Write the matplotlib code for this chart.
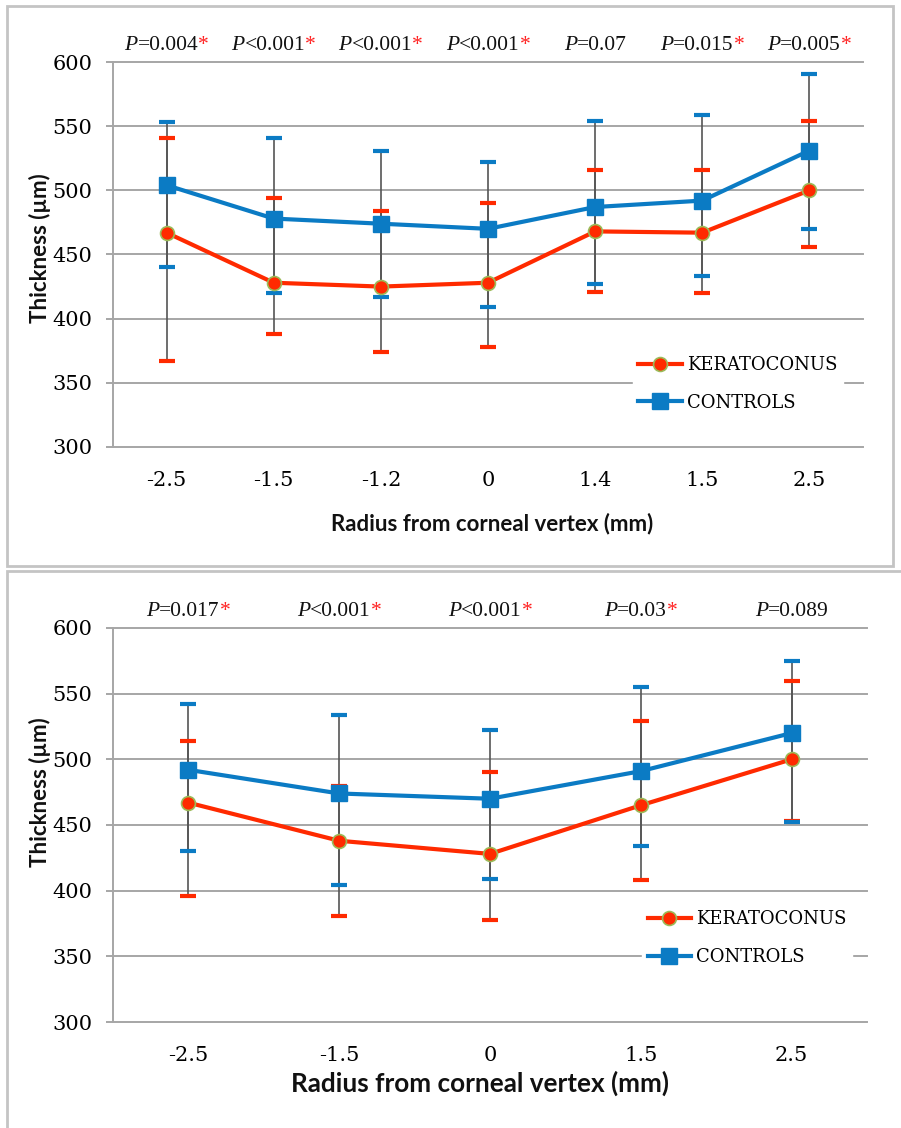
import matplotlib
matplotlib.use('Agg')
import matplotlib.pyplot as plt
from matplotlib.patches import Rectangle
from matplotlib.transforms import blended_transform_factory, offset_copy

# ---------------- data ----------------
top_cats = ['-2.5', '-1.5', '-1.2', '0', '1.4', '1.5', '2.5']
top_kc = [467, 428, 425, 428, 468, 467, 500]
top_kc_hi = [541, 494, 484, 490, 516, 516, 554]
top_kc_lo = [367, 388, 374, 378, 421, 420, 456]
top_ct = [504, 478, 474, 470, 487, 492, 531]
top_ct_hi = [553, 541, 531, 522, 554, 559, 591]
top_ct_lo = [440, 420, 417, 409, 427, 433, 470]
top_p = ['=0.004', '<0.001', '<0.001', '<0.001', '=0.07', '=0.015', '=0.005']
top_sig = [True, True, True, True, False, True, True]

bot_cats = ['-2.5', '-1.5', '0', '1.5', '2.5']
bot_kc = [467, 438, 428, 465, 500]
bot_kc_hi = [514, 480, 490, 529, 560]
bot_kc_lo = [396, 381, 378, 408, 453]
bot_ct = [492, 474, 470, 491, 520]
bot_ct_hi = [542, 534, 522, 555, 575]
bot_ct_lo = [430, 404, 409, 434, 452]
bot_p = ['=0.017', '<0.001', '<0.001', '=0.03', '=0.089']
bot_sig = [True, True, True, True, False]

yticks = [300, 350, 400, 450, 500, 550, 600]

RED = '#ff2a00'
BLUE = '#0b7bc4'
GRID = '#a6a6a6'
EBAR = '#555555'
W, H = 901, 1128

fig = plt.figure(figsize=(W / 100, H / 100), dpi=100)
renderer = fig.canvas.get_renderer()


def fx(px):
    return px / W


def fy(py):
    return 1 - py / H


# panel frames
fig.patches.append(Rectangle((fx(7), fy(566)), fx(893) - fx(7), fy(6) - fy(566),
                             transform=fig.transFigure, fill=False,
                             edgecolor='#c4c4c4', lw=2))
fig.patches.append(Rectangle((fx(7), fy(1140)), fx(905) - fx(7), fy(571) - fy(1140),
                             transform=fig.transFigure, fill=False,
                             edgecolor='#c4c4c4', lw=2))


def draw_panel(rect, cats, kc, kc_hi, kc_lo, ct, ct_hi, ct_lo, pvals, sig,
               p_y, leg_anchor, xlab_x, xlab_y, xlab_size, ylab_y):
    ax = fig.add_axes(rect)
    n = len(cats)
    x = list(range(n))
    ax.set_xlim(-0.5, n - 0.5)
    ax.set_ylim(300, 600)
    ax.set_yticks(yticks)
    ax.set_xticks(x)
    ax.set_xticklabels(cats)
    for yv in yticks:
        ax.axhline(yv, color=GRID, lw=1.4, zorder=0.5, clip_on=False)
    for s in ['top', 'right', 'bottom']:
        ax.spines[s].set_visible(False)
    ax.spines['left'].set_color(GRID)
    ax.spines['left'].set_linewidth(1.4)
    ax.tick_params(axis='y', length=5, width=1.4, color=GRID, pad=10,
                   labelsize=15, labelfontfamily='DejaVu Serif', labelcolor='#000000')
    ax.tick_params(axis='x', length=0, pad=17, labelsize=15,
                   labelfontfamily='DejaVu Serif', labelcolor='#000000')

    # error bars: dark vertical line, coloured caps
    ax.vlines(x, kc_lo, kc_hi, color=EBAR, lw=1.2, zorder=1)
    ax.vlines(x, ct_lo, ct_hi, color=EBAR, lw=1.2, zorder=1)
    ax.plot(x, kc_hi, ls='none', marker='_', ms=12, mew=3, color=RED, zorder=1.5)
    ax.plot(x, kc_lo, ls='none', marker='_', ms=12, mew=3, color=RED, zorder=1.5)
    ax.plot(x, ct_hi, ls='none', marker='_', ms=12, mew=3, color=BLUE, zorder=1.5)
    ax.plot(x, ct_lo, ls='none', marker='_', ms=12, mew=3, color=BLUE, zorder=1.5)

    ax.plot(x, kc, color=RED, lw=3, marker='o', ms=10, mfc=RED,
            mec='#9bbb59', mew=1.2, zorder=3, label='KERATOCONUS')
    ax.plot(x, ct, color=BLUE, lw=3, marker='s', ms=11, mfc=BLUE,
            mec=BLUE, zorder=3, label='CONTROLS')

    leg = ax.legend(loc='center left', bbox_to_anchor=leg_anchor, frameon=True,
                    fancybox=False, framealpha=1, edgecolor='white',
                    facecolor='white', handlelength=2.4, handletextpad=0.3,
                    labelspacing=1.1, borderpad=0.3,
                    prop={'family': 'DejaVu Serif', 'size': 13})
    leg.set_zorder(5)

    # P-value labels
    tr = blended_transform_factory(ax.transData, fig.transFigure)
    for i, (pv, sg) in enumerate(zip(pvals, sig)):
        parts = [('P', dict(style='italic', color='#111111')),
                 (pv, dict(color='#111111'))]
        if sg:
            parts.append(('*', dict(color='#ff2020')))
        texts = []
        for s, kw in parts:
            t = fig.text(i, fy(p_y), s, transform=tr, ha='left', va='center',
                         family='Liberation Serif', fontsize=15.5, **kw)
            texts.append(t)
        widths = [t.get_window_extent(renderer).width for t in texts]
        total = sum(widths)
        off = -total / 2
        for t, w in zip(texts, widths):
            t.set_transform(offset_copy(tr, fig=fig, x=off, y=0, units='dots'))
            off += w

    fig.text(fx(xlab_x), fy(xlab_y), 'Radius from corneal vertex (mm)', ha='center',
             va='center', family='Lato', fontweight='bold', fontsize=xlab_size,
             color='#111111')
    fig.text(fx(40), fy(ylab_y), 'Thickness (µm)', ha='center', va='center',
             rotation=90, family='Lato', fontweight='bold', fontsize=16,
             color='#111111')
    return ax


draw_panel([fx(113), fy(447), fx(863) - fx(113), fy(62) - fy(447)],
           top_cats, top_kc, top_kc_hi, top_kc_lo, top_ct, top_ct_hi, top_ct_lo,
           top_p, top_sig, 45, (0.681, 0.164), 492, 524, 16, 248)

draw_panel([fx(113), fy(1022), fx(867) - fx(113), fy(628) - fy(1022)],
           bot_cats, bot_kc, bot_kc_hi, bot_kc_lo, bot_ct, bot_ct_hi, bot_ct_lo,
           bot_p, bot_sig, 611, (0.690, 0.213), 480, 1083, 18.8, 792)

fig.savefig('out.png', dpi=100)
